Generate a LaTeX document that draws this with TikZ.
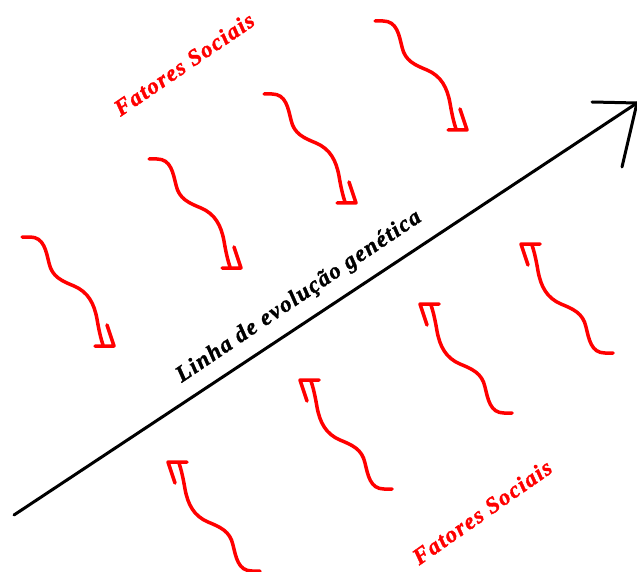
\documentclass[tikz,border=0pt]{standalone}
\usepackage{fontspec}
\setmainfont{Liberation Serif}
\newfontfamily\rotfont[LetterSpace=6,BoldItalicFeatures={FakeBold=1.5}]{Liberation Serif}
\begin{document}
\begin{tikzpicture}[x=1pt,y=-1pt,line join=round,line cap=round,
	onda/.style={red,line width=3.5pt},
	linha/.style={black,line width=3pt},
	rotulo/.style={font=\rotfont\fontsize{23}{26}\selectfont\bfseries\itshape,inner sep=0pt}]
	\useasboundingbox (0,0) rectangle (637,572);
	% Linha principal
	\coordinate (ini) at (14,515);
	\coordinate (fim) at (637,103);
	\draw[linha] (ini)--(fim);
	\draw[linha] (592,102)--(fim)--(622,167);
	\node[rotulo,rotate=34] (evol) at (299,297) {Linha de evolução genética};
	
	% Fatores sociais
	\node[rotulo,red,rotate=34.3] (fs1) at (184,64) {Fatores Sociais};
	\node[rotulo,red,rotate=35] (fs2) at (482,512) {Fatores Sociais};
	
	% Setas onduladas de cima (para baixo)
	\foreach \x/\y in {22/237, 149/159, 264/94, 375/21}{
		\begin{scope}[shift={(\x,\y)}]
			\draw[onda] (0,0)--(8,0) .. controls (22,0) and (24,14) .. (27,26)
				.. controls (30,40) and (40,44) .. (52,49)
				.. controls (66,55) and (72,66) .. (75,82)
				.. controls (77,94) and (79,102) .. (81,108);
			\draw[onda] (73,109)--(92,109)--(85,88);
		\end{scope}
	}
	% Setas onduladas de baixo (para cima)
	\foreach \x/\y in {260/571, 392/489, 512/413, 613/353}{
		\begin{scope}[shift={(\x,\y)},rotate=180]
			\draw[onda] (0,0)--(8,0) .. controls (22,0) and (24,14) .. (27,26)
				.. controls (30,40) and (40,44) .. (52,49)
				.. controls (66,55) and (72,66) .. (75,82)
				.. controls (77,94) and (79,102) .. (81,108);
			\draw[onda] (73,109)--(92,109)--(85,88);
		\end{scope}
	}
\end{tikzpicture}
\end{document}
